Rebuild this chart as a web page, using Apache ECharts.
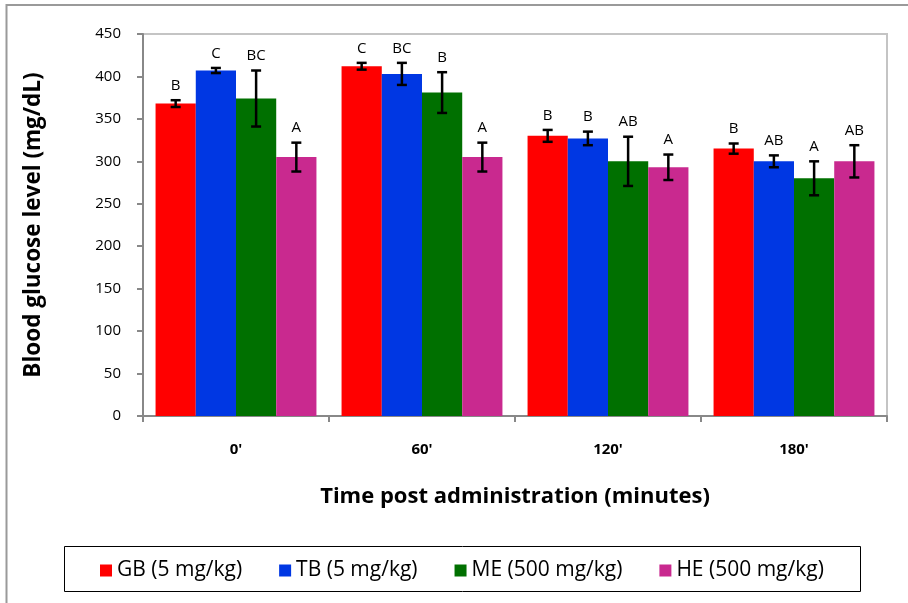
<!DOCTYPE html>
<html>
<head>
<meta charset="utf-8">
<script src="https://cdn.jsdelivr.net/npm/echarts@6/dist/echarts.min.js"></script>
<style>
html,body{margin:0;padding:0;background:#fff;}
#chart{width:908px;height:603px;}
</style>
</head>
<body>
<div id="chart"></div>
<script>
const categories = ["0'", "60'", "120'", "180'"];
const seriesNames = ['GB (5 mg/kg)', 'TB (5 mg/kg)', 'ME (500 mg/kg)', 'HE (500 mg/kg)'];
const gbMean = [368, 412, 330, 315];
const gbErr = [4, 4, 7, 6];
const tbMean = [407, 403, 327, 300];
const tbErr = [3, 13, 8, 7];
const meMean = [374, 381, 300, 280];
const meErr = [33, 24, 29, 20];
const heMean = [305, 305, 293, 300];
const heErr = [17, 17, 15, 19];
const gbLetters = ['B', 'C', 'B', 'B'];
const tbLetters = ['C', 'BC', 'B', 'AB'];
const meLetters = ['BC', 'B', 'AB', 'A'];
const heLetters = ['A', 'A', 'A', 'AB'];
const yTicks = [0, 50, 100, 150, 200, 250, 300, 350, 400, 450];

const colors = ['#FF0000', '#0037E3', '#007000', '#C9298F'];
const means = [gbMean, tbMean, meMean, heMean];
const errs = [gbErr, tbErr, meErr, heErr];
const letters = [gbLetters, tbLetters, meLetters, heLetters];
const catGap = 0.135;
const font = '"Open Sans", "Liberation Sans", Arial, sans-serif';

const chart = echarts.init(document.getElementById('chart'));

const barSeries = seriesNames.map((n, k) => ({
  name: n,
  type: 'bar',
  data: means[k],
  barGap: '0%',
  barCategoryGap: (catGap * 100) + '%',
  itemStyle: { color: colors[k] },
  z: 2
}));

const errSeries = seriesNames.map((n, k) => ({
  type: 'custom',
  name: n + ' err',
  z: 5,
  silent: true,
  data: means[k].map((m, i) => [i, m, errs[k][i]]),
  renderItem: function (params, api) {
    const cat = api.value(0), mean = api.value(1), err = api.value(2);
    const c = api.coord([cat, mean]);
    const bandW = api.size([1, 0])[0];
    const groupW = bandW * (1 - catGap);
    const barW = groupW / 4;
    const x = c[0] - groupW / 2 + barW * (k + 0.5);
    const yT = api.coord([cat, mean + err])[1];
    const yB = api.coord([cat, mean - err])[1];
    const cap = 5;
    const st = { stroke: '#000', lineWidth: 2.5 };
    return {
      type: 'group',
      children: [
        { type: 'line', shape: { x1: x, y1: yT, x2: x, y2: yB }, style: st },
        { type: 'line', shape: { x1: x - cap, y1: yT, x2: x + cap, y2: yT }, style: st },
        { type: 'line', shape: { x1: x - cap, y1: yB, x2: x + cap, y2: yB }, style: st },
        { type: 'text', style: { x: x, y: yT - 7, text: letters[k][params.dataIndex],
            fill: '#000', font: '15px ' + font, textAlign: 'center', textVerticalAlign: 'bottom' } }
      ]
    };
  }
}));

chart.setOption({
  animation: false,
  backgroundColor: '#fff',
  grid: { left: 143, right: 21, top: 34, bottom: 187, show: true, borderColor: '#c4c4c4', borderWidth: 2, backgroundColor: 'transparent' },
  legend: {
    data: seriesNames,
    left: 95, top: 555,
    icon: 'rect', itemWidth: 12, itemHeight: 12, itemGap: 37,
    textStyle: { fontSize: 21, color: '#000', fontFamily: font }
  },
  xAxis: {
    type: 'category',
    data: categories,
    name: 'Time post administration (minutes)',
    nameLocation: 'middle', nameGap: 70,
    nameTextStyle: { fontSize: 22, fontWeight: 'bold', color: '#000', fontFamily: font },
    axisLine: { lineStyle: { color: '#888', width: 2 } },
    axisTick: { show: true, length: 6, lineStyle: { color: '#888', width: 2 } },
    axisLabel: { fontSize: 15, fontWeight: 'bold', color: '#000', margin: 26, fontFamily: font }
  },
  yAxis: {
    type: 'value', min: yTicks[0], max: yTicks[yTicks.length - 1], interval: 50,
    name: 'Blood glucose level (mg/dL)',
    nameLocation: 'middle', nameGap: 98, nameRotate: 90,
    nameTextStyle: { fontSize: 22.5, fontWeight: 'bold', color: '#000', fontFamily: font },
    axisLine: { show: true, lineStyle: { color: '#888', width: 2 } },
    axisTick: { show: true, length: 6, lineStyle: { color: '#888', width: 2 } },
    splitLine: { show: false },
    axisLabel: { fontSize: 15, color: '#000', margin: 22, fontFamily: font }
  },
  graphic: [
    { type: 'rect', shape: { x: 6.5, y: 5, width: 1000, height: 1000 }, style: { fill: 'none', stroke: '#9a9a9a', lineWidth: 2 }, silent: true },
    { type: 'rect', shape: { x: 64.5, y: 546.5, width: 796, height: 45 }, style: { fill: 'none', stroke: '#000', lineWidth: 1 }, silent: true, z: -1 }
  ],
  series: barSeries.concat(errSeries)
});
</script>
</body>
</html>
